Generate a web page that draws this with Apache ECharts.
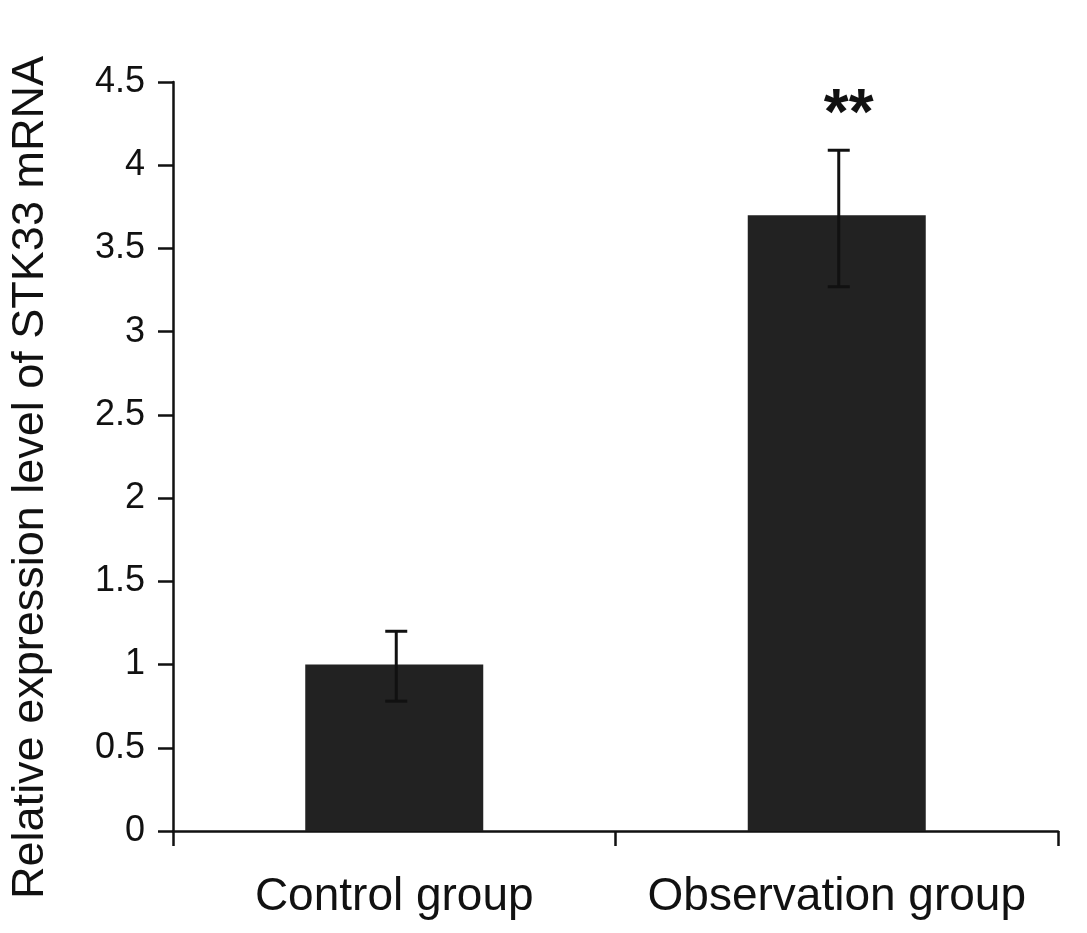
<!DOCTYPE html>
<html>
<head>
<meta charset="utf-8">
<script src="https://cdn.jsdelivr.net/npm/echarts@6/dist/echarts.min.js"></script>
<style>html,body{margin:0;padding:0;background:#fff;}#c{width:1087px;height:933px;}</style>
</head>
<body>
<div id="c"></div>
<script>
const categories = ['Control group', 'Observation group'];
const values = [1.0, 3.7];
const errLow = [0.78, 3.27];
const errHigh = [1.2, 4.09];
const significance = ['', '**'];
const yTickMin = 0, yTickMax = 4.5, yTickStep = 0.5;
const yTitle = 'Relative expression level of STK33 mRNA';

const chart = echarts.init(document.getElementById('c'));
const font = 'Liberation Sans, Arial, sans-serif';
chart.setOption({
  animation: false,
  grid: { left: 173, right: 29, top: 82, bottom: 102 },
  xAxis: {
    type: 'category',
    data: categories,
    axisLine: { lineStyle: { color: '#111', width: 2.5 } },
    axisTick: { show: true, interval: 0, length: 15, lineStyle: { color: '#111', width: 2.5 } },
    axisLabel: { color: '#111', fontSize: 46, fontFamily: font, margin: 43, interval: 0 }
  },
  yAxis: {
    type: 'value',
    min: yTickMin, max: yTickMax, interval: yTickStep,
    name: yTitle,
    nameLocation: 'middle',
    nameGap: 120,
    nameTextStyle: { color: '#111', fontSize: 45, fontFamily: font, padding: [0, 42, 0, 0] },
    splitLine: { show: false },
    axisLine: { show: true, lineStyle: { color: '#111', width: 2.5 } },
    axisTick: { show: true, length: 15, lineStyle: { color: '#111', width: 2.5 } },
    axisLabel: { color: '#111', fontSize: 36, fontFamily: font, margin: 28 }
  },
  series: [
    {
      type: 'bar',
      data: values,
      barWidth: 178,
      itemStyle: { color: '#222222' }
    },
    {
      type: 'custom',
      data: categories.map((c, i) => [i, errLow[i], errHigh[i]]),
      z: 10,
      renderItem: function (params, api) {
        const i = api.value(0);
        const lo = api.coord([i, api.value(1)]);
        const hi = api.coord([i, api.value(2)]);
        const x = lo[0] + 2;
        const cap = 11;
        const style = { stroke: '#111', lineWidth: 3 };
        const children = [
          { type: 'line', shape: { x1: x, y1: lo[1], x2: x, y2: hi[1] }, style },
          { type: 'line', shape: { x1: x - cap, y1: lo[1], x2: x + cap, y2: lo[1] }, style },
          { type: 'line', shape: { x1: x - cap, y1: hi[1], x2: x + cap, y2: hi[1] }, style }
        ];
        if (significance[i]) {
          children.push({
            type: 'text',
            style: {
              text: significance[i], x: x + 10, y: hi[1] - 34,
              align: 'center', verticalAlign: 'middle',
              fontSize: 64, fontWeight: 'bold', fontFamily: font, fill: '#111'
            }
          });
        }
        return { type: 'group', children };
      }
    }
  ]
});
</script>
</body>
</html>
